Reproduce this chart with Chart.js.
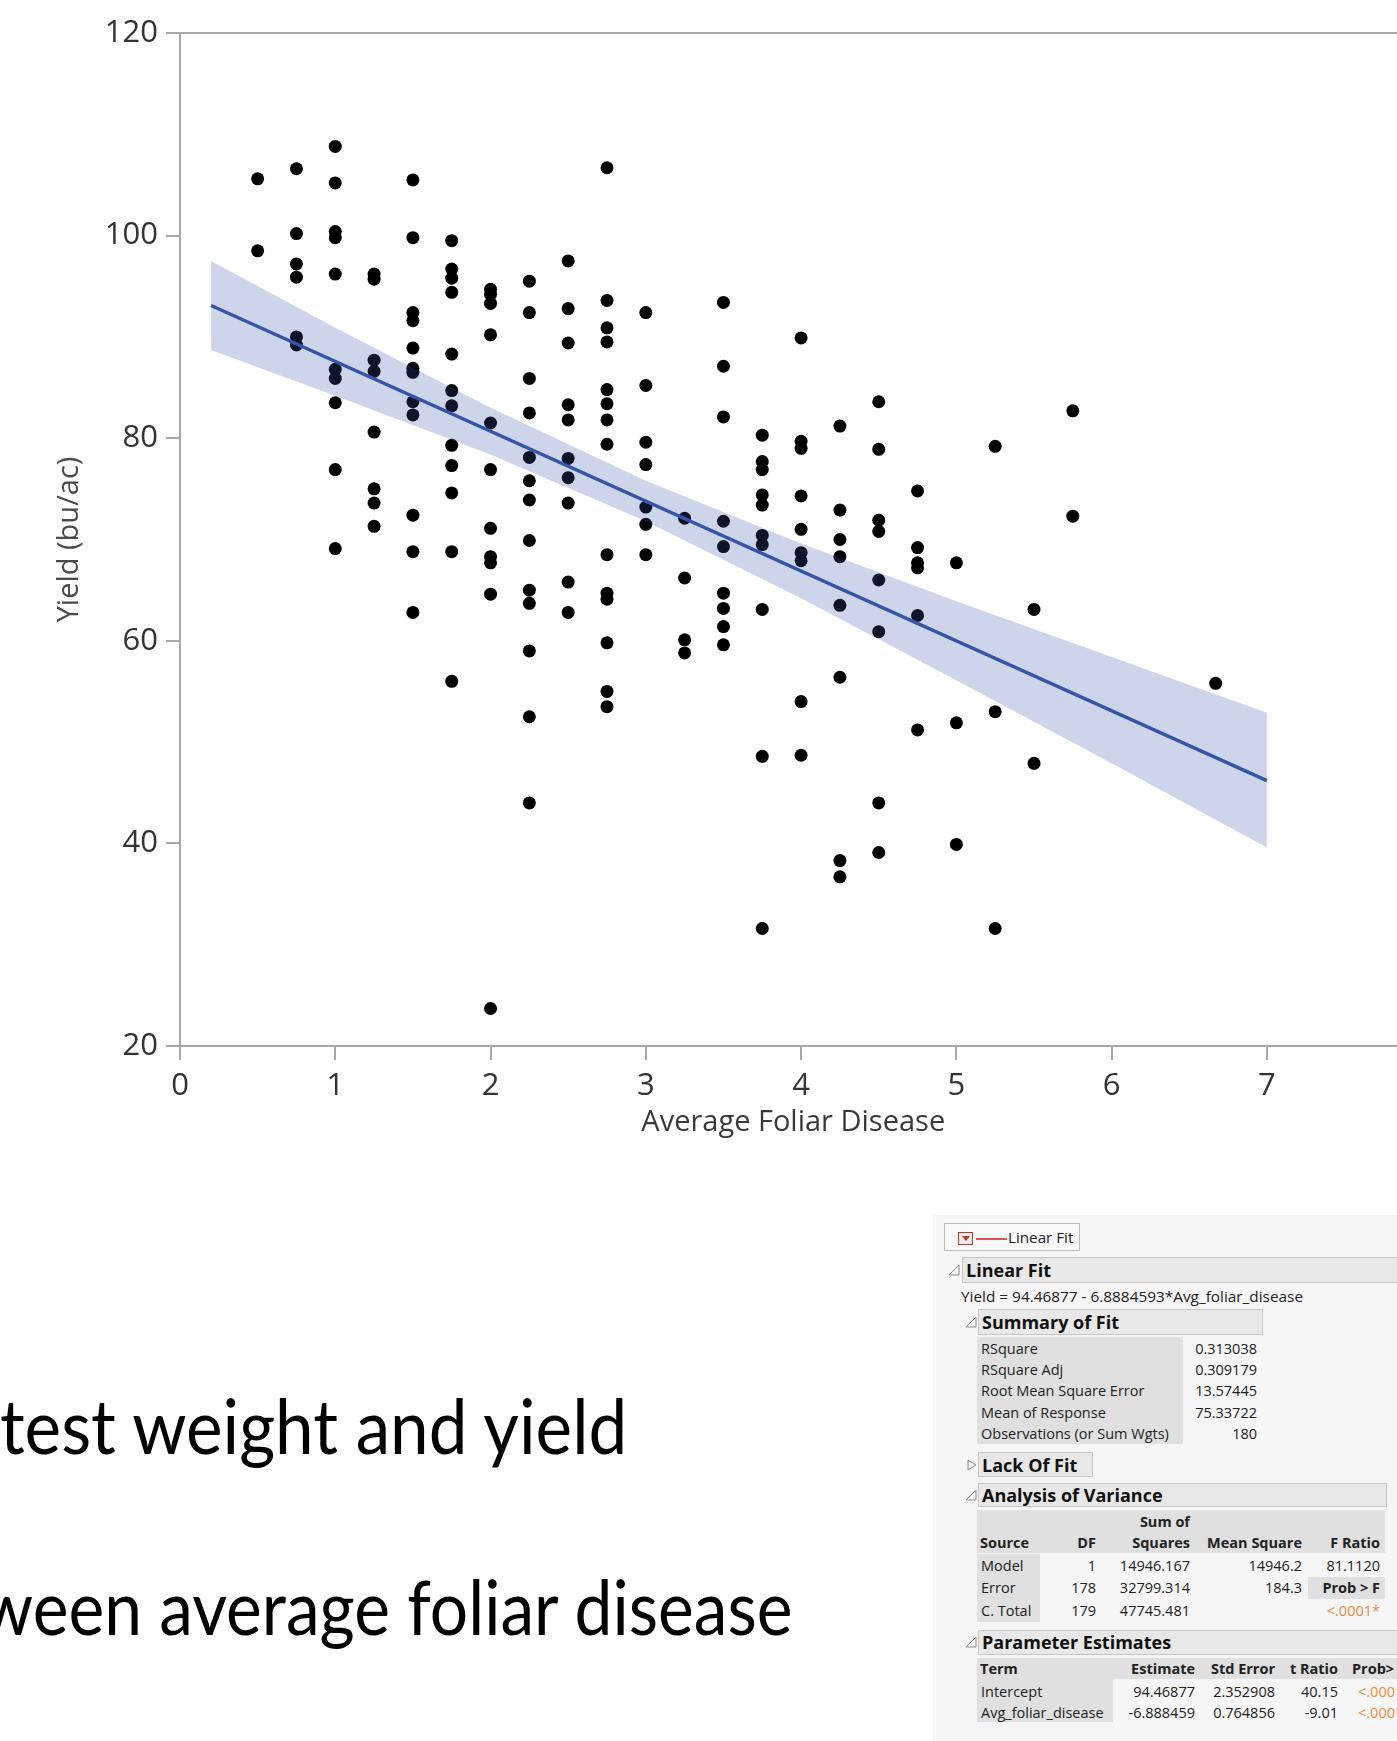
<!DOCTYPE html>
<html>
<head>
<meta charset="utf-8">
<script src="https://cdn.jsdelivr.net/npm/chart.js@4.4.1/dist/chart.umd.min.js"></script>
<style>
  html, body { margin: 0; padding: 0; background: #fff; }
  body { position: relative; width: 1397px; height: 1741px; overflow: hidden; font-family: "Open Sans", sans-serif; }
  #plot { position: absolute; left: 0; top: 0; }
  .slide { position: absolute; font-family: Lato, "Open Sans", sans-serif; font-size: 76px; line-height: 76px; color: #000; white-space: nowrap; transform-origin: 0 0; }
  #jmp { position: absolute; left: 933px; top: 1215px; width: 464px; height: 526px; background: #f6f6f6; }
</style>
</head>
<body>
<canvas id="plot" width="1413" height="1150"></canvas>
<div id="jmp"></div>
<div class="slide" id="line1" style="left:0px; top:1387px;">test weight and yield</div>
<div class="slide" id="line2" style="left:-20px; top:1568px;">ween average foliar disease</div>

<script>
/* =========================================================
   DATA
========================================================= */
const diseaseLevels = [0.5, 0.75, 1, 1.25, 1.5, 1.75, 2, 2.25, 2.5, 2.75, 3, 3.25,
  3.5, 3.75, 4, 4.25, 4.5, 4.75, 5, 5.25, 5.5, 5.75, 6.67];

const yieldByLevel = [
  [105.6, 98.5],
  [106.6, 100.2, 97.2, 95.9, 90.0, 89.2],
  [108.8, 105.2, 100.4, 99.8, 96.2, 86.8, 85.9, 83.5, 76.9, 69.1],
  [96.2, 95.7, 87.7, 86.6, 80.6, 75.0, 73.6, 71.3],
  [105.5, 99.8, 92.4, 91.6, 88.9, 86.9, 86.5, 83.6, 82.3, 72.4, 68.8, 62.8],
  [99.5, 96.7, 95.8, 94.4, 88.3, 84.7, 83.2, 79.3, 77.3, 74.6, 68.8, 56.0],
  [94.7, 94.2, 93.3, 90.2, 81.5, 76.9, 71.1, 68.3, 67.7, 64.6, 23.7],
  [95.5, 92.4, 85.9, 82.5, 78.1, 75.8, 73.9, 69.9, 65.0, 63.7, 59.0, 52.5, 44.0],
  [97.5, 92.8, 89.4, 83.3, 81.8, 78.0, 76.1, 73.6, 65.8, 62.8],
  [106.7, 93.6, 90.9, 89.5, 84.8, 83.4, 81.8, 79.4, 68.5, 64.7, 64.1, 59.8, 55.0, 53.5],
  [92.4, 85.2, 79.6, 77.4, 73.2, 71.5, 68.5],
  [72.1, 66.2, 60.1, 58.8],
  [93.4, 87.1, 82.1, 71.8, 69.3, 64.7, 63.2, 61.4, 59.6],
  [80.3, 77.7, 76.9, 74.4, 73.4, 70.4, 69.5, 63.1, 48.6, 31.6],
  [89.9, 79.7, 79.0, 74.3, 71.0, 68.7, 67.9, 54.0, 48.7],
  [81.2, 72.9, 70.0, 68.3, 63.5, 56.4, 38.3, 36.7],
  [83.6, 78.9, 71.9, 70.8, 66.0, 60.9, 44.0, 39.1],
  [74.8, 69.2, 67.7, 67.2, 62.5, 51.2],
  [67.7, 51.9, 39.9],
  [79.2, 53.0, 31.6],
  [63.1, 47.9],
  [82.7, 72.3],
  [55.8]
];

// fitted line and its confidence band
const fitX = [0.2, 7];
const fitY = [93.1, 46.2];
const bandX = [0.2, 1, 2, 3, 4, 5, 6, 7];
const bandUpper = [97.5, 90.9, 83.0, 75.8, 69.6, 63.9, 58.4, 52.9];
const bandLower = [88.7, 84.2, 78.4, 71.8, 64.2, 56.1, 47.9, 39.6];

const xTicks = [0, 1, 2, 3, 4, 5, 6, 7];
const yTicks = [20, 40, 60, 80, 100, 120];

/* =========================================================
   CHART
========================================================= */
const points = [];
diseaseLevels.forEach((x, i) => {
  yieldByLevel[i].forEach(y => points.push({ x: x, y: y }));
});

const axisGray = "#a8a8a8";
const tickFont = { family: "Open Sans", size: 31 };
const titleFont = { family: "Open Sans", size: 29 };

new Chart(document.getElementById("plot"), {
  type: "scatter",
  data: {
    datasets: [
      {
        type: "line",
        data: fitX.map((x, i) => ({ x: x, y: fitY[i] })),
        borderColor: "#3556a8",
        borderWidth: 3.5,
        pointRadius: 0,
        fill: false,
        order: 1
      },
      {
        type: "line",
        data: bandX.map((x, i) => ({ x: x, y: bandUpper[i] })),
        borderColor: "rgba(0,0,0,0)",
        borderWidth: 1,
        pointRadius: 0,
        fill: "+1",
        backgroundColor: "rgba(53,81,167,0.245)",
        order: 2
      },
      {
        type: "line",
        data: bandX.map((x, i) => ({ x: x, y: bandLower[i] })),
        borderColor: "rgba(0,0,0,0)",
        borderWidth: 1,
        pointRadius: 0,
        fill: false,
        order: 2
      },
      {
        data: points,
        pointRadius: 6.5,
        pointBackgroundColor: "#000",
        pointBorderWidth: 0,
        order: 3
      }
    ]
  },
  options: {
    responsive: false,
    animation: false,
    layout: { padding: { top: 33, right: 0, bottom: 0, left: 0 } },
    plugins: { legend: { display: false }, tooltip: { enabled: false } },
    scales: {
      x: {
        type: "linear",
        min: 0,
        max: 7.899,
        afterBuildTicks: s => { s.ticks = xTicks.map(v => ({ value: v })); },
        afterFit: s => { s.height = 104; },
        grid: { drawOnChartArea: false, tickLength: 14, color: axisGray, lineWidth: 2 },
        border: { color: axisGray, width: 2 },
        ticks: { font: tickFont, color: "#333", padding: 8 },
        title: {
          display: true,
          text: "Average Foliar Disease",
          font: titleFont,
          color: "#3a3a3a",
          padding: { top: 0, bottom: 10 }
        }
      },
      y: {
        type: "linear",
        min: 20,
        max: 120,
        afterBuildTicks: s => { s.ticks = yTicks.map(v => ({ value: v })); },
        afterFit: s => { s.width = 180; },
        grid: {
          color: c => (c.tick && c.tick.value === 120 ? axisGray : "rgba(0,0,0,0)"),
          tickColor: axisGray,
          tickLength: 14,
          lineWidth: 2
        },
        border: { color: axisGray, width: 2 },
        ticks: { font: tickFont, color: "#333", padding: 8 },
        title: {
          display: true,
          text: "Yield (bu/ac)",
          font: titleFont,
          color: "#4a4a4a",
          padding: { top: 52, bottom: 0 }
        }
      }
    }
  }
});

/* =========================================================
   SLIDE TEXT (fit to picture widths)
========================================================= */
function fitWidth(el, target) {
  el.style.transformOrigin = "0 50%";
  el.style.transform = "scaleX(" + (target / el.offsetWidth) + ")";
}
fitWidth(document.getElementById("line1"), 627);
fitWidth(document.getElementById("line2"), 812);

/* =========================================================
   JMP REPORT PANEL
========================================================= */
const P = document.body;

function box(x, y, w, h, bg, border) {
  const d = document.createElement("div");
  d.style.cssText = "position:absolute;box-sizing:border-box;left:" + x + "px;top:" + y +
    "px;width:" + w + "px;height:" + h + "px;background:" + bg + ";" +
    (border ? "border:1px solid " + border + ";" : "");
  P.appendChild(d);
  return d;
}

function txt(s, x, y, o = {}) {
  const size = o.size || 14.5;
  const d = document.createElement("div");
  d.textContent = s;
  d.style.cssText = "position:absolute;white-space:nowrap;font-family:'Open Sans',sans-serif;" +
    "font-size:" + size + "px;line-height:" + (size + 4) + "px;top:" + (y - (size + 4) / 2) +
    "px;color:" + (o.color || "#222") + ";font-weight:" + (o.bold ? 700 : 400) + ";";
  if (o.right) d.style.right = (1397 - x) + "px";
  else d.style.left = x + "px";
  P.appendChild(d);
  if (o.w) fitWidth(d, o.w);
}

function tri(x, y, open) {
  const ns = "http://www.w3.org/2000/svg";
  const svg = document.createElementNS(ns, "svg");
  svg.setAttribute("width", 12);
  svg.setAttribute("height", 12);
  svg.style.cssText = "position:absolute;left:" + x + "px;top:" + (y - 6) + "px;";
  const p = document.createElementNS(ns, "polygon");
  p.setAttribute("points", open ? "11,1 11,11 1,11" : "2,1 10,6 2,11");
  p.setAttribute("fill", "none");
  p.setAttribute("stroke", "#8a8a8a");
  p.setAttribute("stroke-width", "1");
  svg.appendChild(p);
  P.appendChild(svg);
}

const headBg = "#e8e8e8", headLine = "#c6c6c6", cellBg = "#e0e0e0", orange = "#ef8a3c";

// dropdown button
box(944, 1223, 136, 28, "#f9f9f9", "#bdbdbd");
const btn = box(958, 1232, 15, 13, "#fbeaea", "#c0392b");
btn.innerHTML = '<div style="position:absolute;left:3px;top:3px;width:0;height:0;border-left:4px solid transparent;border-right:4px solid transparent;border-top:5px solid #c0392b;"></div>';
box(976, 1238, 31, 2, "#e0505a");
txt("Linear Fit", 1008, 1238, { size: 14.5, w: 65 });

// Linear Fit
tri(948, 1270, true);
box(962, 1257, 440, 26, headBg, headLine);
txt("Linear Fit", 966, 1270, { size: 18, bold: true, color: "#111" });
txt("Yield = 94.46877 - 6.8884593*Avg_foliar_disease", 961, 1297, { size: 14.5, w: 342 });

// Summary of Fit
const fitLabels = ["RSquare", "RSquare Adj", "Root Mean Square Error", "Mean of Response", "Observations (or Sum Wgts)"];
const fitValues = ["0.313038", "0.309179", "13.57445", "75.33722", "180"];
tri(965, 1322, true);
box(978, 1309, 285, 26, headBg, headLine);
txt("Summary of Fit", 982, 1322, { size: 18, bold: true, color: "#111" });
box(977, 1337, 206, 107, cellBg);
fitLabels.forEach((s, i) => {
  txt(s, 981, 1349 + i * 21.25);
  txt(fitValues[i], 1257, 1349 + i * 21.25, { right: true });
});

// Lack Of Fit
tri(966, 1465, false);
box(978, 1452, 115, 25, headBg, headLine);
txt("Lack Of Fit", 982, 1465, { size: 18, bold: true, color: "#111" });

// Analysis of Variance
const anovaRows = [
  ["Model", "1", "14946.167", "14946.2", "81.1120"],
  ["Error", "178", "32799.314", "184.3", ""],
  ["C. Total", "179", "47745.481", "", ""]
];
const anovaRight = [1096, 1190, 1302, 1380];
tri(965, 1495, true);
box(978, 1483, 409, 24, headBg, headLine);
txt("Analysis of Variance", 982, 1495, { size: 18, bold: true, color: "#111" });
box(977, 1510, 408, 43, cellBg);
txt("Sum of", 1190, 1522, { bold: true, right: true });
txt("Source", 980, 1543, { bold: true });
["DF", "Squares", "Mean Square", "F Ratio"].forEach((s, i) => {
  txt(s, anovaRight[i], 1543, { bold: true, right: true });
});
box(977, 1554, 63, 68, cellBg);
box(1308, 1577, 77, 22, cellBg);
anovaRows.forEach((r, i) => {
  const y = 1566 + i * 22.5;
  txt(r[0], 981, y);
  r.slice(1).forEach((s, j) => { if (s) txt(s, anovaRight[j], y, { right: true }); });
});
txt("Prob > F", 1380, 1588.5, { bold: true, right: true });
txt("<.0001*", 1380, 1611, { right: true, color: orange });

// Parameter Estimates
const paramRows = [
  ["Intercept", "94.46877", "2.352908", "40.15", "<.0001*"],
  ["Avg_foliar_disease", "-6.888459", "0.764856", "-9.01", "<.0001*"]
];
const paramRight = [1195, 1275, 1338];
tri(965, 1642, true);
box(978, 1630, 430, 25, headBg, headLine);
txt("Parameter Estimates", 982, 1642, { size: 18, bold: true, color: "#111" });
box(977, 1658, 430, 21, cellBg);
txt("Term", 980, 1669, { bold: true });
["Estimate", "Std Error", "t Ratio"].forEach((s, i) => {
  txt(s, paramRight[i], 1669, { bold: true, right: true });
});
txt("Prob>|t|", 1352, 1669, { bold: true });
box(977, 1679, 136, 43, cellBg);
paramRows.forEach((r, i) => {
  const y = 1692 + i * 21;
  txt(r[0], 981, y);
  paramRight.forEach((x, j) => txt(r[j + 1], x, y, { right: true }));
  txt(r[4], 1358, y, { color: orange });
});
</script>
</body>
</html>
